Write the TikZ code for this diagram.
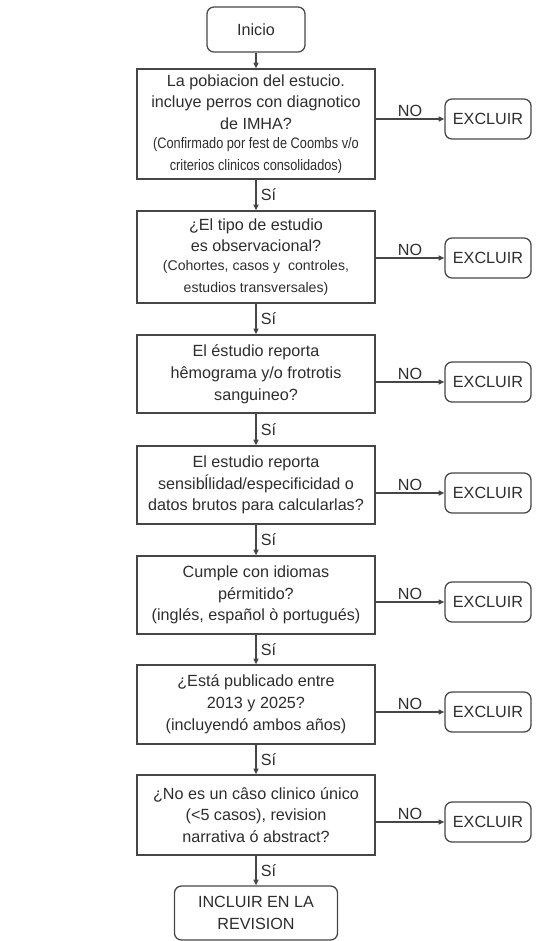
\documentclass[tikz,border=0pt]{standalone}
\usepackage{fontspec}
\setmainfont{Liberation Sans}
\newfontfamily\narrowfont{Liberation Sans}[FakeStretch=0.84]
\usepackage{xcolor}
\usetikzlibrary{arrows.meta, positioning}
\definecolor{inkgray}{RGB}{45, 45, 45}
\definecolor{linegray}{RGB}{70, 70, 70}
\newcommand{\mainsize}{\fontsize{11.5}{15.5}\selectfont}
\newcommand{\notesize}{\fontsize{10}{11.5}\selectfont}
\newcommand{\narrowsize}{\narrowfont\fontsize{10.8}{12.5}\selectfont}

\begin{document}
\begin{tikzpicture}[
  x=0.025cm, y=-0.025cm,
  >={Triangle[length=4pt, width=3.5pt]},
  terminal/.style={
    rectangle, rounded corners=5pt, draw=linegray, line width=0.9pt,
    text=inkgray, font=\mainsize, align=center, inner sep=0pt
  },
  question/.style={
    rectangle, draw=linegray, line width=0.9pt, minimum width=5.95cm,
    text=inkgray, font=\mainsize, align=center, inner sep=0pt
  },
  flow/.style={->, draw=linegray, line width=0.8pt},
  lbl/.style={text=inkgray, font=\mainsize, inner sep=1pt},
]

\useasboundingbox (0, 0) rectangle (553, 941);

\def\colM{256}
\def\colX{488}

% start
\node[terminal, minimum width=2.45cm, minimum height=1.125cm] (inicio) at (\colM, 29.5) {Inicio};

% questions
\node[question, minimum height=2.75cm] (q1) at (\colM, 124)
  {La pobiacion del estucio.\\incluye perros con diagnotico\\de IMHA?\\[-2pt]
   \narrowsize(Confirmado por fest de Coombs v/o\\\narrowsize criterios clinicos consolidados)};
\node[question, minimum height=2.3cm] (q2) at (\colM, 257)
  {¿El tipo de estudio\\es observacional?\\[-2pt]
   \notesize(Cohortes, casos y\ \ controles,\\\notesize estudios transversales)};
\node[question, minimum height=1.95cm] (q3) at (\colM, 374)
  {El éstudio reporta\\hêmograma y/o frotrotis\\sanguineo?};
\node[question, minimum height=1.95cm] (q4) at (\colM, 485)
  {El estudio reporta\\sensibĺlidad/especificidad o\\datos brutos para calcularlas?};
\node[question, minimum height=1.95cm] (q5) at (\colM, 595)
  {Cumple con idiomas\\pérmitido?\\(inglés, español ò portugués)};
\node[question, minimum height=1.975cm] (q6) at (\colM, 704.5)
  {¿Está publicado entre\\2013 y 2025?\\(incluyendó ambos años)};
\node[question, minimum height=2cm] (q7) at (\colM, 815)
  {¿No es un câso clinico único\\(<5 casos), revision\\narrativa ó abstract?};

% end
\node[terminal, minimum width=4.075cm, minimum height=1.35cm] (incluir) at (\colM, 913)
  {INCLUIR EN LA\\REVISION};

% exclusions
\node[terminal, minimum width=2.15cm, minimum height=1cm] (ex1) at (\colX, 119) {EXCLUIR};
\node[terminal, minimum width=2.15cm, minimum height=1cm] (ex2) at (\colX, 258) {EXCLUIR};
\node[terminal, minimum width=2.15cm, minimum height=1cm] (ex3) at (\colX, 382) {EXCLUIR};
\node[terminal, minimum width=2.15cm, minimum height=1cm] (ex4) at (\colX, 493) {EXCLUIR};
\node[terminal, minimum width=2.15cm, minimum height=1cm] (ex5) at (\colX, 602) {EXCLUIR};
\node[terminal, minimum width=2.15cm, minimum height=1cm] (ex6) at (\colX, 712) {EXCLUIR};
\node[terminal, minimum width=2.15cm, minimum height=1cm] (ex7) at (\colX, 822) {EXCLUIR};

% main flow
\draw[flow] (inicio) -- (q1);
\draw[flow] (q1) -- node[lbl, right, xshift=2pt] {Sí} (q2);
\draw[flow] (q2) -- node[lbl, right, xshift=2pt] {Sí} (q3);
\draw[flow] (q3) -- node[lbl, right, xshift=2pt] {Sí} (q4);
\draw[flow] (q4) -- node[lbl, right, xshift=2pt] {Sí} (q5);
\draw[flow] (q5) -- node[lbl, right, xshift=2pt] {Sí} (q6);
\draw[flow] (q6) -- node[lbl, right, xshift=2pt] {Sí} (q7);
\draw[flow] (q7) -- node[lbl, right, xshift=2pt] {Sí} (incluir);

% NO branches
\foreach \i in {1,...,7}
  \draw[flow] (q\i.east |- ex\i) -- node[lbl, above] {NO} (ex\i);

\end{tikzpicture}
\end{document}
